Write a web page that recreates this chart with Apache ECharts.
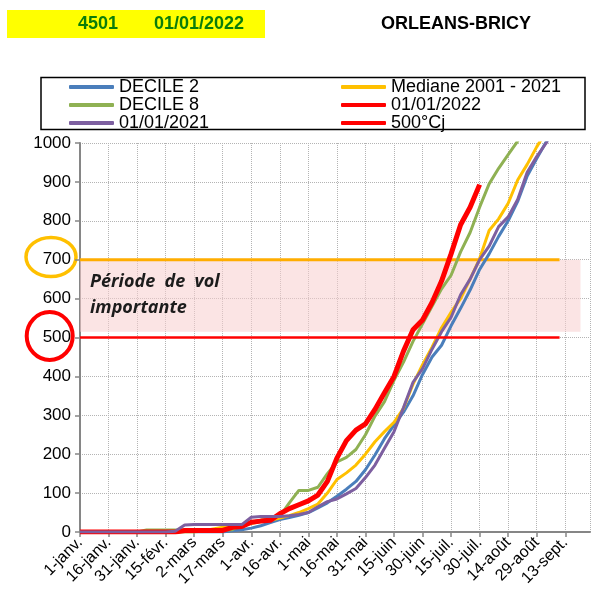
<!DOCTYPE html>
<html>
<head>
<meta charset="utf-8">
<script src="https://cdn.jsdelivr.net/npm/echarts@6/dist/echarts.min.js"></script>
<style>
html, body { margin: 0; padding: 0; background: #fff; }
#chart { width: 597px; height: 596px; }
</style>
</head>
<body>
<div id="chart"></div>
<script>
// jours depuis le 1er janvier (pas de 5 jours)
var days = [0, 5, 10, 15, 20, 25, 30, 35, 40, 45, 50, 55, 60, 65, 70, 75, 80, 85, 90, 95,
	100, 105, 110, 115, 120, 125, 130, 135, 140, 145, 150, 155, 160, 165, 170, 175, 180, 185, 190, 195,
	200, 205, 210, 215, 220, 225, 230, 235, 240, 245, 250];

var xTickLabels = ['1-janv.', '16-janv.', '31-janv.', '15-févr.', '2-mars', '17-mars', '1-avr.', '16-avr.',
	'1-mai', '16-mai', '31-mai', '15-juin', '30-juin', '15-juil.', '30-juil.', '14-août', '29-août', '13-sept.'];

// sommes de degres-jours (°Cj)
var decile2 = [0, 0, 0, 0, 0, 0, 0, 0, 0, 0, 0, 0, 0, 0, 0, 0, 3, 6, 10, 16,
	24, 32, 37, 43, 50, 62, 75, 92, 110, 130, 160, 198, 240, 275, 308, 350, 405, 450, 480, 530,
	575, 622, 675, 715, 760, 800, 850, 915, 960, 1003, 1050];
var decile8 = [0, 0, 0, 0, 0, 0, 0, 5, 5, 5, 5, 5, 5, 5, 5, 5, 6, 18, 25, 30,
	35, 40, 75, 107, 107, 115, 150, 180, 192, 212, 250, 298, 335, 390, 437, 490, 535, 580, 625, 660,
	720, 770, 835, 895, 935, 970, 1005, 1050, null, null, null];
var mediane = [0, 0, 0, 0, 0, 0, 0, 0, 0, 0, 0, 0, 0, 3, 8, 12, 15, 18, 22, 27,
	30, 36, 42, 50, 60, 72, 100, 135, 152, 172, 200, 232, 258, 282, 318, 380, 430, 475, 525, 565,
	600, 650, 703, 775, 805, 845, 905, 945, 990, 1030, 1070];
var annee2022 = [0, 0, 0, 0, 0, 0, 0, 0, 0, 0, 0, 4, 4, 4, 4, 4, 12, 14, 25, 28,
	30, 47, 60, 70, 80, 95, 130, 190, 235, 262, 278, 315, 358, 400, 465, 520, 545, 590, 645, 715,
	790, 835, 893, null, null, null, null, null, null, null, null];
var annee2021 = [0, 0, 0, 0, 0, 0, 0, 0, 0, 0, 2, 18, 19, 19, 19, 19, 19, 19, 38, 40,
	40, 40, 42, 45, 50, 65, 78, 85, 98, 112, 140, 172, 215, 258, 320, 385, 420, 470, 515, 552,
	610, 650, 700, 735, 785, 810, 855, 925, 965, 1000, 1045];

// seuils
var seuilDays = [0, 252];
var seuil500 = [500, 500];
var seuil700 = [700, 700];
var bandeVol = [515, 700];
var bandeDays = [0, 263];

function pairs(xs, ys) {
	var res = [];
	for (var i = 0; i < xs.length; i++) {
		res.push([xs[i], ys[i]]);
	}
	return res;
}

var police = '"Liberation Sans", Arial, sans-serif';

function courbe(name, values, color, width) {
	return {
		name : name,
		type : 'line',
		data : pairs(days, values),
		showSymbol : false,
		symbol : 'none',
		connectNulls : false,
		lineStyle : { color : color, width : width },
		itemStyle : { color : color }
	};
}

function legende(left, noms) {
	return {
		orient : 'vertical',
		left : left,
		top : 78,
		padding : 0,
		itemGap : 0,
		itemWidth : 45,
		itemHeight : 4,
		icon : 'roundRect',
		textStyle : { fontSize : 18, lineHeight : 18, color : '#000', fontFamily : police },
		data : noms
	};
}

var chart = echarts.init(document.getElementById('chart'));

var option = {
	animation : false,
	textStyle : { fontFamily : police },
	grid : { left : 80, right : 7, top : 143, bottom : 64 },
	legend : [
		legende(69, [ 'DECILE 2', 'DECILE 8', '01/01/2021' ]),
		legende(341, [ 'Mediane 2001 - 2021', '01/01/2022', '500°Cj' ])
	],
	xAxis : {
		type : 'value',
		min : 0,
		max : 268,
		interval : 15,
		axisLine : { lineStyle : { color : '#868686', width : 2 } },
		axisTick : { length : 5, lineStyle : { color : '#868686', width : 1.5 } },
		axisLabel : {
			rotate : 45,
			fontSize : 16,
			color : '#000',
			margin : 8,
			showMaxLabel : false,
			formatter : function(v) {
				var i = v / 15;
				return (i === Math.round(i) && xTickLabels[i]) ? xTickLabels[i] : '';
			}
		},
		splitLine : { show : true, lineStyle : { color : '#b4b4b4', type : 'dotted', width : 1 } }
	},
	yAxis : {
		type : 'value',
		min : 0,
		max : 1000,
		interval : 100,
		axisLine : { show : true, lineStyle : { color : '#868686', width : 2 } },
		axisTick : { show : true, length : 5, lineStyle : { color : '#868686', width : 1.5 } },
		axisLabel : {
			fontSize : 17,
			color : '#000',
			margin : 9,
			formatter : function(v) {
				return String(v);
			}
		},
		splitLine : { show : true, lineStyle : { color : '#b4b4b4', type : 'dotted', width : 1 } }
	},
	series : [
		courbe('DECILE 2', decile2, '#4a7ebb', 3),
		courbe('DECILE 8', decile8, '#8fb153', 3),
		courbe('Mediane 2001 - 2021', mediane, '#ffc000', 3),
		{
			name : 'seuil 700',
			type : 'line',
			data : pairs(seuilDays, seuil700),
			showSymbol : false,
			symbol : 'none',
			lineStyle : { color : '#ffad00', width : 3 },
			markArea : {
				silent : true,
				itemStyle : { color : 'rgba(248, 205, 205, 0.55)' },
				data : [ [ { xAxis : bandeDays[0], yAxis : bandeVol[0] }, { xAxis : bandeDays[1], yAxis : bandeVol[1] } ] ]
			},
			z : 1
		},
		courbe('01/01/2022', annee2022, '#ff0000', 5),
		courbe('01/01/2021', annee2021, '#7d5fa0', 3),
		{
			name : '500°Cj',
			type : 'line',
			data : pairs(seuilDays, seuil500),
			showSymbol : false,
			symbol : 'none',
			lineStyle : { color : '#ff0000', width : 2.5 },
			itemStyle : { color : '#ff0000' }
		}
	],
	graphic : [
		{ type : 'rect', shape : { x : 7, y : 10, width : 258, height : 28 }, style : { fill : '#ffff00' } },
		{ type : 'text', x : 78, y : 24, style : { text : '4501', fill : '#0a7d0a', font : 'bold 18px ' + police, textVerticalAlign : 'middle' } },
		{ type : 'text', x : 154, y : 24, style : { text : '01/01/2022', fill : '#0a7d0a', font : 'bold 18px ' + police, textVerticalAlign : 'middle' } },
		{ type : 'text', x : 456, y : 24, style : { text : 'ORLEANS-BRICY', fill : '#000', font : 'bold 18px ' + police, textAlign : 'center', textVerticalAlign : 'middle' } },
		{ type : 'rect', shape : { x : 41, y : 77.5, width : 544, height : 52 }, style : { fill : 'none', stroke : '#000', lineWidth : 1.5 } },
		{ type : 'text', x : 90, y : 282, z : 10, style : { text : 'Période  de  vol', fill : '#1c1c1c', font : 'italic bold 18px "Open Sans", sans-serif', textVerticalAlign : 'middle' } },
		{ type : 'text', x : 90, y : 308, z : 10, style : { text : 'importante', fill : '#1c1c1c', font : 'italic bold 18px "Open Sans", sans-serif', textVerticalAlign : 'middle' } },
		{ type : 'ellipse', shape : { cx : 51, cy : 257, rx : 25, ry : 19.5 }, style : { fill : 'none', stroke : '#ffc000', lineWidth : 3.5 } },
		{ type : 'ellipse', shape : { cx : 49.7, cy : 336, rx : 23, ry : 24 }, style : { fill : 'none', stroke : '#ff0000', lineWidth : 4 } }
	]
};
chart.setOption(option);
</script>
</body>
</html>
